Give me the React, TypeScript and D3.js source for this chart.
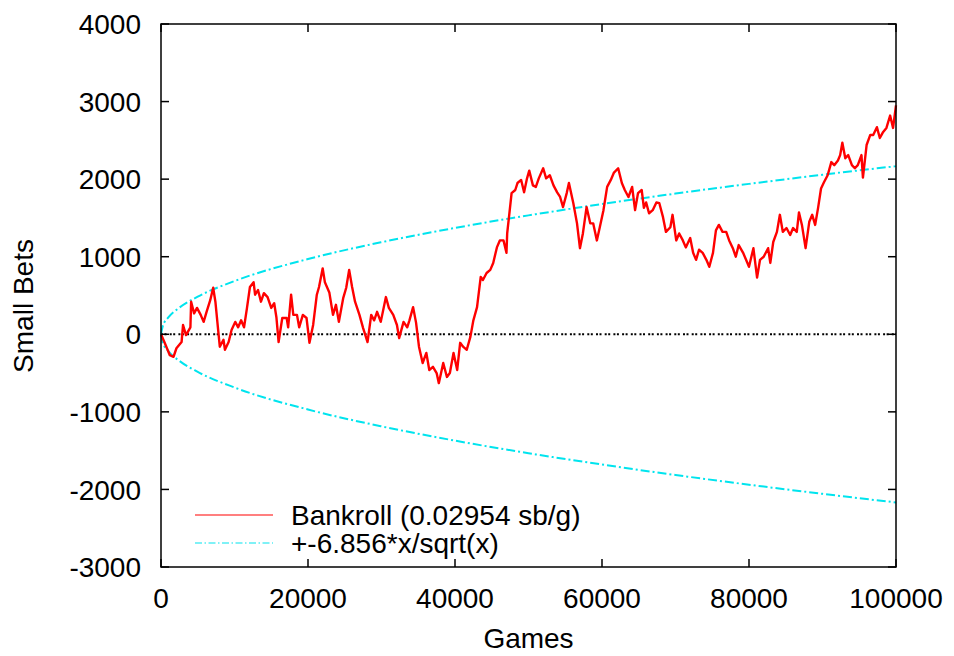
import React from "react";
import * as d3 from "d3";

// bankroll trace (games, small bets)
const games = [
  0, 500, 1200, 1700, 2100, 2800, 3000, 3400, 4000, 4100, 4500, 4900, 5400, 5800, 6200, 6700, 7100, 7400, 7800, 8000,
  8500, 8700, 9200, 9600, 10100, 10500, 10900, 11300, 11700, 12100, 12600, 12800, 13200, 13600, 14000, 14500, 15000, 15400, 15700, 16000,
  16500, 17100, 17300, 17700, 18000, 18500, 18800, 19300, 19800, 20200, 20700, 21200, 21500, 22000, 22300, 22900, 23400, 23800, 24200, 24800,
  25200, 25600, 26000, 26400, 27000, 27500, 28100, 28600, 29000, 29400, 29900, 30600, 31000, 31600, 32100, 32400, 33000, 33500, 33800, 34300,
  34700, 35100, 35600, 36100, 36500, 37000, 37500, 37800, 38400, 38900, 39300, 39800, 40300, 40700, 41100, 41600, 42100, 42500, 43000, 43500,
  43800, 44300, 44800, 45200, 45700, 46100, 46600, 47000, 47100, 47400, 47700, 48200, 48500, 49000, 49400, 49800, 50100, 50600, 51000, 51400,
  52000, 52400, 52900, 53400, 53900, 54300, 54700, 55200, 55500, 56100, 56600, 57000, 57400, 57900, 58400, 58800, 59300, 59700, 60200, 60700,
  61200, 61600, 62200, 62700, 63100, 63600, 64100, 64500, 64900, 65400, 65700, 66000, 66400, 66900, 67400, 67800, 68300, 68700, 69300, 69600,
  70100, 70500, 71000, 71400, 72000, 72400, 72800, 73200, 73700, 74200, 74600, 75100, 75500, 75900, 76400, 76900, 77300, 77800, 78200, 78600,
  79200, 79600, 80000, 80600, 81100, 81500, 82000, 82600, 82900, 83300, 83800, 84200, 84600, 85100, 85600, 86000, 86500, 86800, 87200, 87700,
  88200, 88600, 89000, 89400, 89800, 90200, 90700, 91200, 91600, 92100, 92400, 92700, 93100, 93500, 94000, 94400, 94800, 95300, 95500, 96000,
  96500, 96900, 97400, 97800, 98200, 98700, 99200, 99600, 100000,
];
const bankroll = [
  0, -110, -270, -290, -180, -100, 120, -10, 90, 420, 270, 340, 250, 160, 290, 440, 600, 420, 30, -160,
  -70, -200, -100, 55, 160, 90, 180, 90, 340, 610, 670, 510, 570, 420, 530, 480, 340, 400, 220, -100,
  210, 210, 90, 510, 250, 250, 90, 250, 210, -110, 120, 510, 610, 850, 670, 540, 250, 380, 160, 470,
  600, 830, 610, 420, 250, 80, -100, 250, 180, 290, 160, 480, 340, 250, 120, -50, 160, 90, 180, 350,
  150, -160, -370, -240, -460, -420, -500, -630, -370, -550, -500, -240, -460, -110, -160, -200, -30, 180, 350, 740,
  700, 790, 830, 920, 1120, 1210, 1210, 1050, 1300, 1560, 1820, 1860, 1950, 1990, 1830, 2010, 2110, 1920, 1900, 2010,
  2140, 2010, 2050, 1920, 1830, 1770, 1640, 1820, 1950, 1690, 1430, 1110, 1300, 1640, 1430, 1430, 1210, 1380, 1600, 1900,
  1990, 2080, 2140, 1950, 1860, 1770, 1900, 1600, 1820, 1860, 1630, 1700, 1560, 1600, 1700, 1690, 1510, 1320, 1380, 1540,
  1210, 1300, 1210, 1120, 1240, 1050, 960, 1090, 1050, 960, 870, 1050, 1340, 1410, 1320, 1320, 1210, 1110, 1000, 1150,
  1050, 960, 870, 1110, 730, 960, 1000, 1110, 920, 1190, 1320, 1540, 1320, 1370, 1280, 1370, 1320, 1570, 1410, 1110,
  1450, 1540, 1410, 1630, 1880, 1960, 2050, 2220, 2180, 2240, 2310, 2470, 2270, 2310, 2180, 2140, 2180, 2310, 2020, 2440,
  2570, 2570, 2670, 2530, 2600, 2660, 2820, 2660, 2950,
];

// +-6.856*sqrt(x) envelope
const boundGames = [0, 250, 1000, 2500, 5000, 10000, 20000, 30000, 40000, 50000, 60000, 70000, 80000, 90000, 100000];
const boundValues = [0, 108, 217, 343, 485, 686, 970, 1187, 1371, 1533, 1679, 1814, 1939, 2057, 2168];

const xTicks = [0, 20000, 40000, 60000, 80000, 100000];
const yTicks = [-3000, -2000, -1000, 0, 1000, 2000, 3000, 4000];

const W = 954;
const H = 656;
const margin = { top: 24, right: 58, bottom: 89, left: 161 };
const FONT = "'Liberation Sans', Arial, Helvetica, sans-serif";
const FS = 28;
const CYAN = "#00e4ee";

export default function App() {
  const x = d3.scaleLinear().domain([0, 100000]).range([margin.left, W - margin.right]);
  const y = d3.scaleLinear().domain([-3000, 4000]).range([H - margin.bottom, margin.top]);

  const walk = games.map((g, i) => [g, bankroll[i]] as [number, number]);
  const upper = boundGames.map((g, i) => [g, boundValues[i]] as [number, number]);
  const lower = boundGames.map((g, i) => [g, -boundValues[i]] as [number, number]);

  const line = d3.line<[number, number]>().x(d => x(d[0])).y(d => y(d[1]));
  const smooth = d3.line<[number, number]>().x(d => x(d[0])).y(d => y(d[1])).curve(d3.curveMonotoneX);

  const x0 = x.range()[0], x1 = x.range()[1];
  const yb = y.range()[0], yt = y.range()[1];
  const tick = 8;

  return (
    <svg width={W} height={H} style={{ position: "absolute", left: 0, top: 0, background: "#fff" }} fontFamily={FONT}>
      {/* zero line */}
      <line x1={x0} x2={x1} y1={y(0)} y2={y(0)} stroke="#000" strokeWidth={2} strokeDasharray="2,1.5,2,3.2" />

      {/* envelope */}
      <path d={smooth(upper) || ""} fill="none" stroke={CYAN} strokeWidth={2} strokeDasharray="9,3,2,3" />
      <path d={smooth(lower) || ""} fill="none" stroke={CYAN} strokeWidth={2} strokeDasharray="9,3,2,3" />

      {/* bankroll */}
      <path d={line(walk) || ""} fill="none" stroke="#ff0000" strokeWidth={2.4} strokeLinejoin="round" />

      {/* border */}
      <rect x={x0} y={yt} width={x1 - x0} height={yb - yt} fill="none" stroke="#000" strokeWidth={1.5} />

      {/* y ticks */}
      {yTicks.map(t => (
        <g key={"y" + t}>
          <line x1={x0} x2={x0 + tick} y1={y(t)} y2={y(t)} stroke="#000" strokeWidth={1.5} />
          <line x1={x1} x2={x1 - tick} y1={y(t)} y2={y(t)} stroke="#000" strokeWidth={1.5} />
          <text x={x0 - 20} y={y(t)} dy="0.36em" textAnchor="end" fontSize={FS} fill="#000">{t}</text>
        </g>
      ))}

      {/* x ticks */}
      {xTicks.map(t => (
        <g key={"x" + t}>
          <line x1={x(t)} x2={x(t)} y1={yb} y2={yb - tick} stroke="#000" strokeWidth={1.5} />
          <line x1={x(t)} x2={x(t)} y1={yt} y2={yt + tick} stroke="#000" strokeWidth={1.5} />
          <text x={x(t)} y={yb + 41} textAnchor="middle" fontSize={FS} fill="#000">{t}</text>
        </g>
      ))}

      {/* axis labels */}
      <text x={(x0 + x1) / 2} y={H - 8} textAnchor="middle" fontSize={FS} fill="#000">Games</text>
      <text transform={`translate(33, 306) rotate(-90)`} textAnchor="middle" fontSize={FS} fill="#000">Small Bets</text>

      {/* legend */}
      <line x1={195} x2={273} y1={515} y2={515} stroke="#ff0000" strokeWidth={1.2} />
      <text x={291} y={515} dy="0.36em" fontSize={FS} fill="#000">Bankroll (0.02954 sb/g)</text>
      <line x1={195} x2={273} y1={543} y2={543} stroke={CYAN} strokeWidth={1.2} strokeDasharray="7,2.5,1.5,2.5" />
      <text x={291} y={543} dy="0.36em" fontSize={FS} fill="#000">+-6.856*x/sqrt(x)</text>
    </svg>
  );
}
